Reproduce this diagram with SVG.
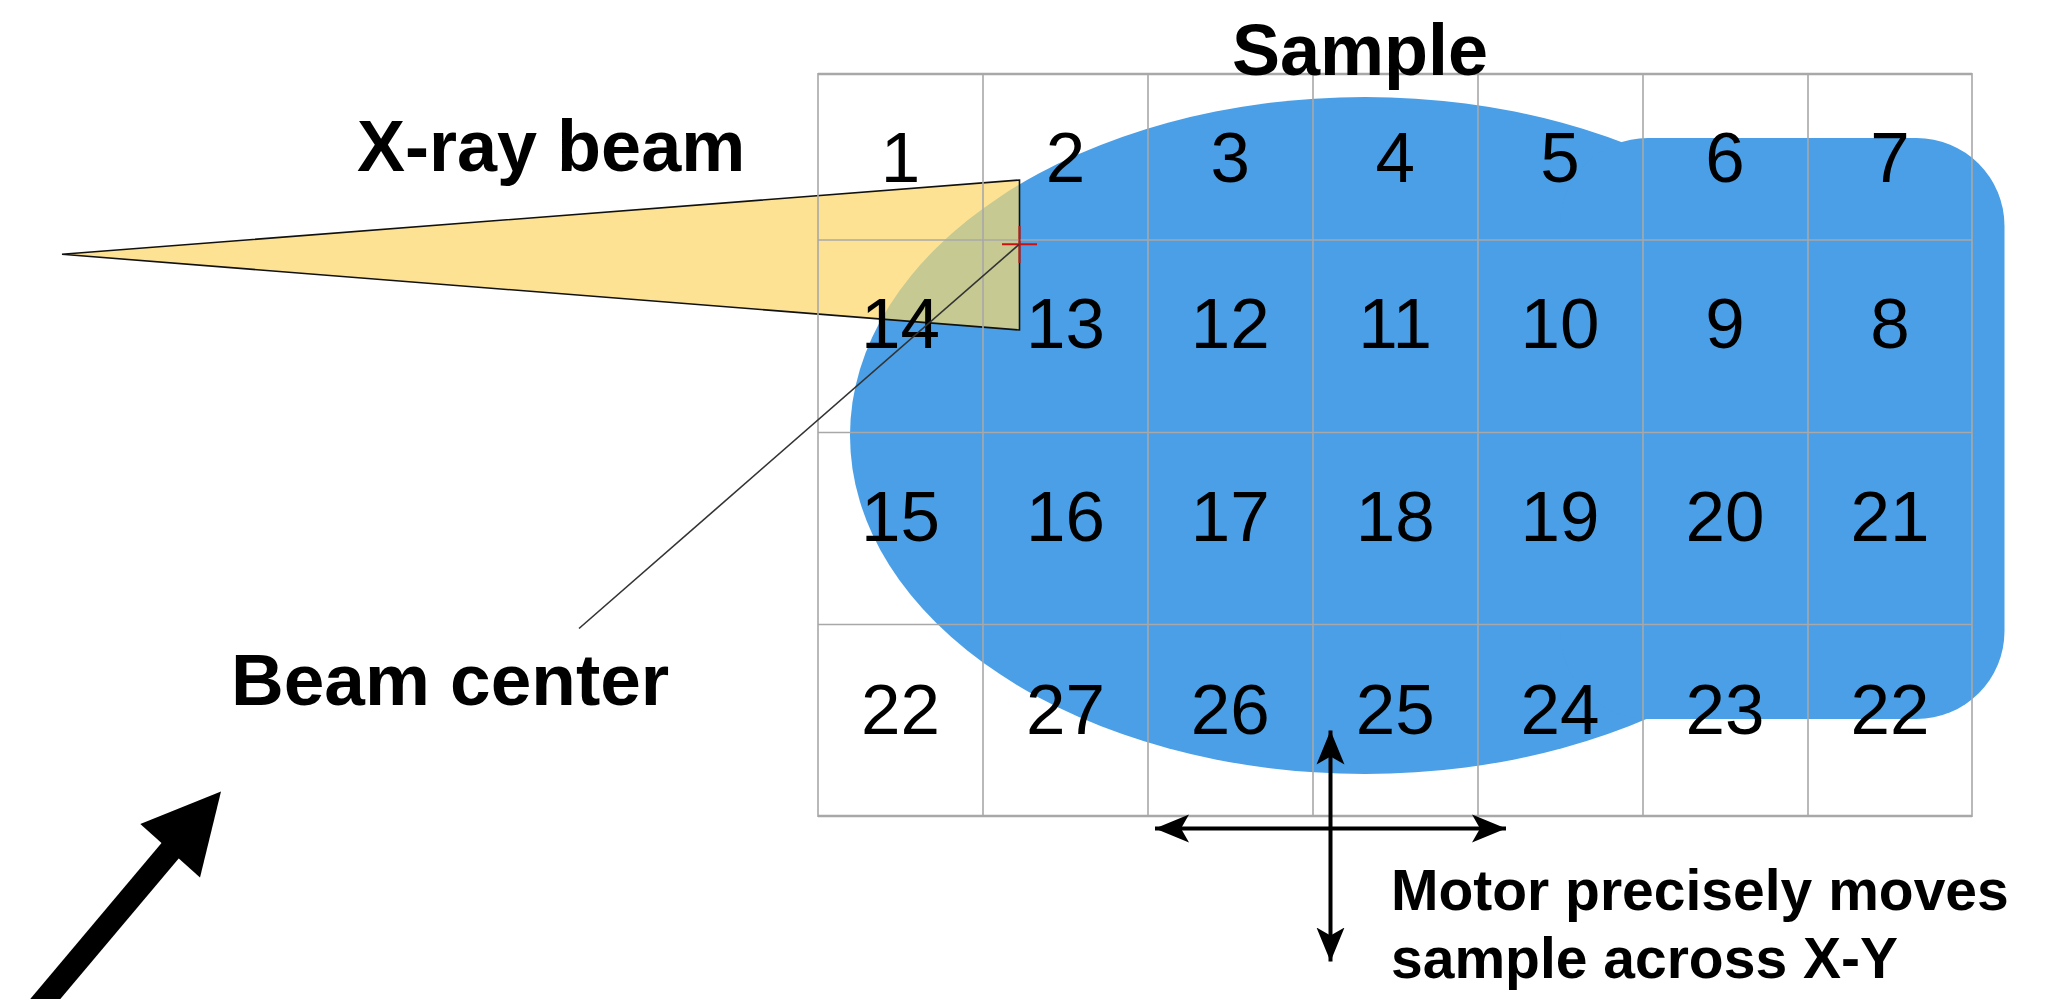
<svg xmlns="http://www.w3.org/2000/svg" width="2065" height="999" viewBox="0 0 2065 999">
<style>
.num{font-family:"Liberation Sans",Arial,sans-serif;font-size:71px;fill:#000;text-anchor:middle}
.lbl{font-family:"Liberation Sans",Arial,sans-serif;font-weight:bold;fill:#000}
.grid line{stroke:#a8a8a8;stroke-width:1.6}
.grid .outer{stroke-width:2.5}
.arr{stroke:#000;stroke-width:4;fill:none}
</style>
<defs>
<clipPath id="blobClip">
<ellipse cx="1365" cy="435.5" rx="515" ry="338.5"/>
<rect x="1560" y="138" width="444.5" height="581" rx="88" ry="88"/>
</clipPath>
<marker id="ah" viewBox="0 0 36 30" refX="34" refY="15" markerWidth="36" markerHeight="30" markerUnits="userSpaceOnUse" orient="auto-start-reverse">
<path d="M34,15 L0,1 L8,15 L0,29 Z" fill="#000"/>
</marker>
</defs>

<g id="sample">
<ellipse cx="1365" cy="435.5" rx="515" ry="338.5" fill="#4a9fe6"/>
<rect x="1560" y="138" width="444.5" height="581" rx="88" ry="88" fill="#4a9fe6"/>
</g>

<g id="beam">
<polygon points="62,254.3 1019.5,180 1019.5,330" fill="#fde294"/>
<polygon points="62,254.3 1019.5,180 1019.5,330" fill="#c6c992" clip-path="url(#blobClip)"/>
<polygon points="62,254.3 1019.5,180 1019.5,330" fill="none" stroke="#111" stroke-width="1.6" stroke-linejoin="miter"/>
</g>

<g class="grid" id="grid">
<line class="outer" x1="818" y1="74" x2="1972" y2="74"/>
<line x1="818" y1="240" x2="1972" y2="240"/>
<line x1="818" y1="432.5" x2="1972" y2="432.5"/>
<line x1="818" y1="624.5" x2="1972" y2="624.5"/>
<line class="outer" x1="818" y1="816" x2="1972" y2="816"/>
<line x1="818" y1="73" x2="818" y2="817"/>
<line x1="983" y1="73" x2="983" y2="817"/>
<line x1="1148" y1="73" x2="1148" y2="817"/>
<line x1="1313" y1="73" x2="1313" y2="817"/>
<line x1="1478" y1="73" x2="1478" y2="817"/>
<line x1="1643" y1="73" x2="1643" y2="817"/>
<line x1="1808" y1="73" x2="1808" y2="817"/>
<line x1="1972" y1="73" x2="1972" y2="817"/>
</g>

<g id="cell-numbers">
<text class="num" x="900.5" y="182">1</text>
<text class="num" x="1065.4" y="182">2</text>
<text class="num" x="1230.2" y="182">3</text>
<text class="num" x="1395.2" y="182">4</text>
<text class="num" x="1560" y="182">5</text>
<text class="num" x="1725" y="182">6</text>
<text class="num" x="1890" y="182">7</text>
<text class="num" x="900.5" y="348">14</text>
<text class="num" x="1065.4" y="348">13</text>
<text class="num" x="1230.2" y="348">12</text>
<text class="num" x="1395.2" y="348">11</text>
<text class="num" x="1560" y="348">10</text>
<text class="num" x="1725" y="348">9</text>
<text class="num" x="1890" y="348">8</text>
<text class="num" x="900.5" y="541">15</text>
<text class="num" x="1065.4" y="541">16</text>
<text class="num" x="1230.2" y="541">17</text>
<text class="num" x="1395.2" y="541">18</text>
<text class="num" x="1560" y="541">19</text>
<text class="num" x="1725" y="541">20</text>
<text class="num" x="1890" y="541">21</text>
<text class="num" x="900.5" y="734">22</text>
<text class="num" x="1065.4" y="734">27</text>
<text class="num" x="1230.2" y="734">26</text>
<text class="num" x="1395.2" y="734">25</text>
<text class="num" x="1560" y="734">24</text>
<text class="num" x="1725" y="734">23</text>
<text class="num" x="1890" y="734">22</text>
</g>

<g id="beam-center-marker">
<line x1="1002" y1="244.3" x2="1037" y2="244.3" stroke="#cc1111" stroke-width="2"/>
<line x1="1019.5" y1="226" x2="1019.5" y2="263" stroke="#cc1111" stroke-width="2"/>
</g>

<g id="connectors">
<line x1="1019" y1="244.5" x2="579" y2="628.5" stroke="#333" stroke-width="1.6"/>
<line class="arr" x1="1155" y1="828.6" x2="1506" y2="828.6" marker-start="url(#ah)" marker-end="url(#ah)"/>
<line class="arr" x1="1330.5" y1="730.5" x2="1330.5" y2="961.5" marker-start="url(#ah)" marker-end="url(#ah)"/>
<line x1="36" y1="1010" x2="180" y2="839" stroke="#000" stroke-width="23"/>
<polygon points="221,791.5 140.3,824 200,877.5" fill="#000"/>
</g>

<g id="labels">
<text class="lbl" x="1360" y="75" font-size="72" text-anchor="middle">Sample</text>
<text class="lbl" x="357" y="171" font-size="72">X-ray beam</text>
<text class="lbl" x="231" y="705" font-size="73">Beam center</text>
<text class="lbl" x="1391" y="910" font-size="57">Motor precisely moves</text>
<text class="lbl" x="1391" y="978" font-size="57">sample across X-Y</text>
</g>
</svg>
